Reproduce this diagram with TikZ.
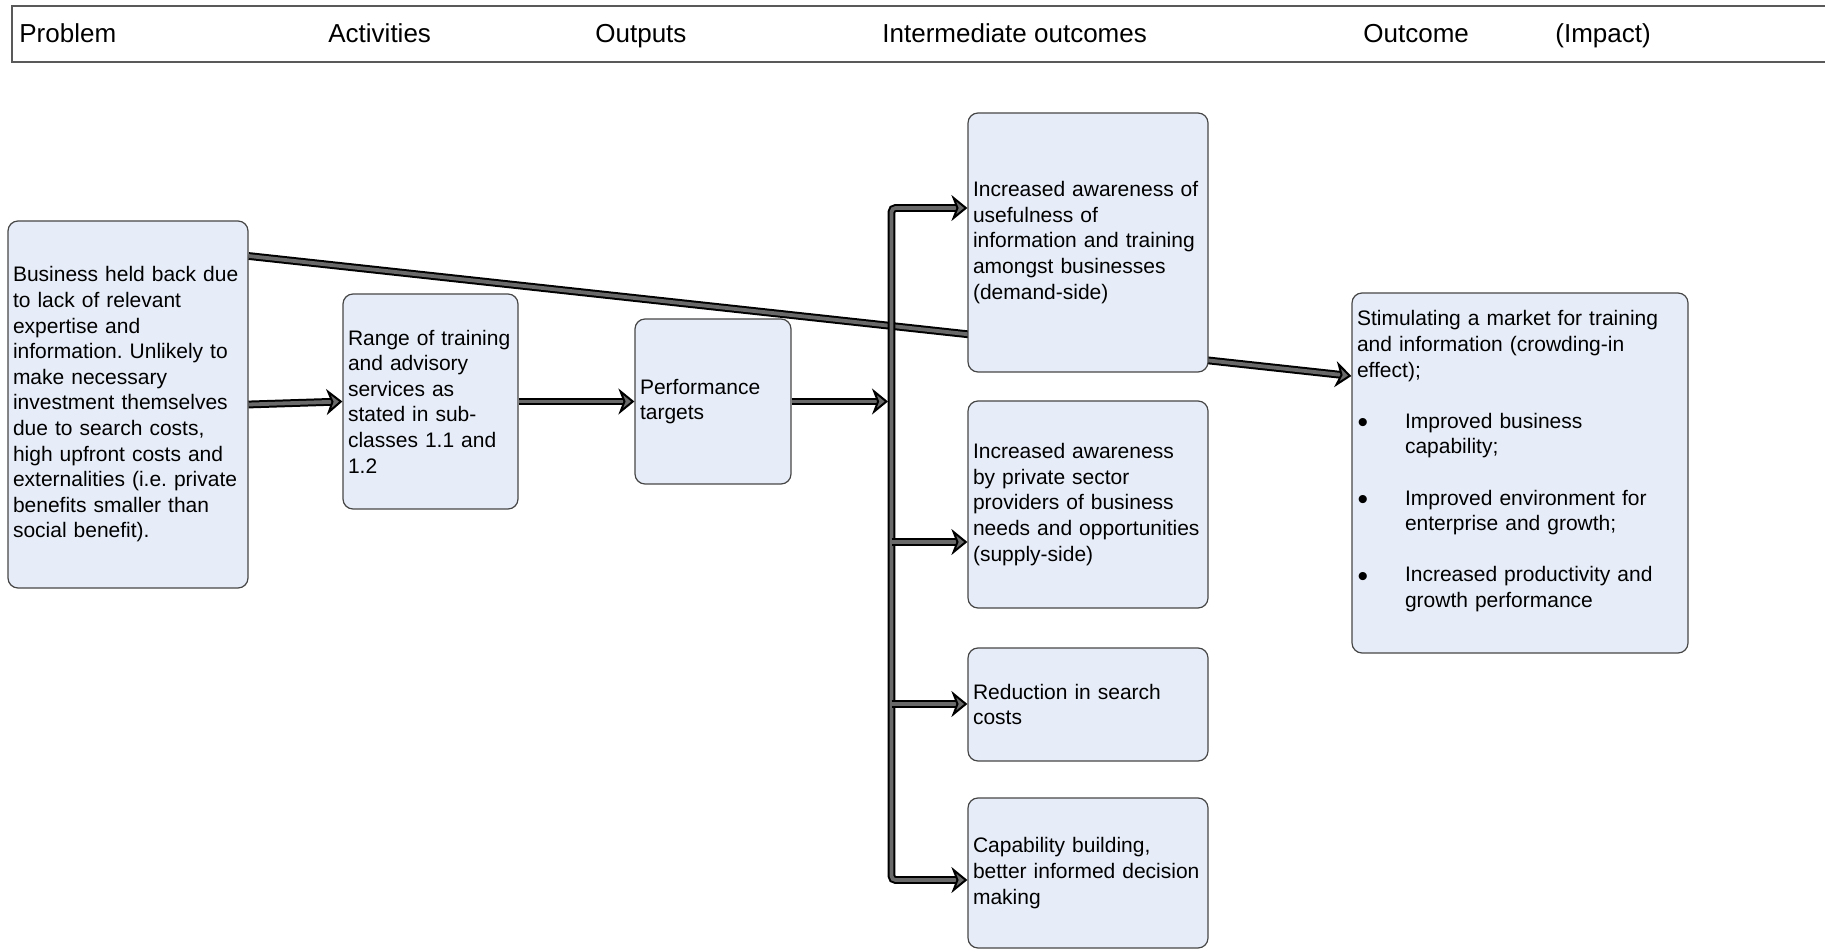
\documentclass[tikz,border=0pt]{standalone}
\usepackage{fontspec}
\setmainfont{Liberation Sans}
\usetikzlibrary{arrows.meta,backgrounds}
\frenchspacing

\definecolor{boxfill}{RGB}{231,237,248}
\definecolor{boxline}{RGB}{70,70,70}
\definecolor{flowgray}{RGB}{105,105,105}
\newcommand{\outbullet}{\makebox[24pt][l]{\hspace{0.3pt}\raisebox{-2.3pt}{\fontsize{15}{12.8}\selectfont\textbullet}}}
\newcommand{\outindent}{\hspace*{24pt}}

\tikzset{
  stagebox/.style={draw=boxline, fill=boxfill, rounded corners=5pt, line width=0.6pt,
    align=left, inner xsep=2.5pt, inner ysep=0pt, font=\fontsize{10.5}{12.8}\selectfont},
  tip/.tip={Stealth[length=8pt,width=13pt,inset=2.5pt,fill=flowgray]},
  flow/.style={draw=black, line width=1pt, double=flowgray, double distance=1.9pt, -tip},
  head/.style={anchor=base west, inner sep=0pt, font=\fontsize{13}{15}\selectfont},
}

\begin{document}
\begin{tikzpicture}[x=0.5pt, y=-0.5pt]
	\useasboundingbox (0,0) rectangle (1825,951);
	
	%header bar
	\draw[draw=gray!70!black, line width=0.8pt] (1830,6) -- (12,6) -- (12,62) -- (1830,62);
	\node[head] (hproblem) at (19,42.5) {Problem};
	\node[head] (hactiv) at (328,42.5) {Activities};
	\node[head] (houtput) at (595,42.5) {Outputs};
	\node[head] (hinter) at (882,42.5) {Intermediate outcomes};
	\node[head] (houtcome) at (1363,42.5) {Outcome};
	\node[head] (himpact) at (1555,42.5) {(Impact)};
	
	%boxes
	\node[stagebox, minimum width=120pt, minimum height=183.5pt, text width=115pt] (problem) at (128,404.5)
		{Business held back due\\to lack of relevant\\expertise and\\information. Unlikely to\\make necessary\\investment themselves\\due to search costs,\\high upfront costs and\\externalities (i.e. private\\benefits smaller than\\social benefit).};
	\node[stagebox, minimum width=87.5pt, minimum height=107.5pt, text width=82.5pt] (activity) at (430.5,401.5)
		{Range of training\\and advisory\\services as\\stated in sub-\\classes 1.1 and\\1.2};
	\node[stagebox, minimum width=78pt, minimum height=82.5pt, text width=73pt] (outputs) at (713,401.5)
		{Performance\\targets};
	
	\node[stagebox, minimum width=120pt, minimum height=129.5pt, text width=115pt] (aware1) at (1088,242.5)
		{Increased awareness of\\usefulness of\\information and training\\amongst businesses\\(demand-side)};
	\node[stagebox, minimum width=120pt, minimum height=103.5pt, text width=115pt] (aware2) at (1088,504.5)
		{Increased awareness\\by private sector\\providers of business\\needs and opportunities\\(supply-side)};
	\node[stagebox, minimum width=120pt, minimum height=56.5pt, text width=115pt] (search) at (1088,704.5)
		{Reduction in search\\costs};
	\node[stagebox, minimum width=120pt, minimum height=75pt, text width=115pt] (capab) at (1088,873)
		{Capability building,\\better informed decision\\making};
	
	\node[stagebox, minimum width=168pt, minimum height=180pt, text width=163pt] (outcome) at (1520,473)
		{Stimulating a market for training\\and information (crowding-in\\effect);\\[12.8pt]
		\outbullet Improved business\\\outindent capability;\\[12.8pt]
		\outbullet Improved environment for\\\outindent enterprise and growth;\\[12.8pt]
		\outbullet Increased productivity and\\\outindent growth performance\\[1.2pt]\mbox{}};
	
	%trunk
	\coordinate (trtop) at (891.5,208);
	\coordinate (trbot) at (891.5,880);
	\coordinate (trin) at (888,401.5);
	\coordinate (br2) at (891.5,542);
	\coordinate (br3) at (891.5,704);
	
	%arrows
	\begin{scope}[on background layer]
		\draw[flow] (problem.east |- 0,256) -- (outcome.west |- 0,376);
	\end{scope}
	\draw[flow] (problem.east) -- (activity.west);
	\draw[flow] (activity.east) -- (outputs.west);
	\draw[flow] (outputs.east) -- (trin);
	\draw[flow, tip-tip, rounded corners=2pt]
		(aware1.west |- trtop) -- (trtop) -- (trbot) -- (capab.west |- trbot);
	\draw[flow] (br2) -- (aware2.west |- br2);
	\draw[flow] (br3) -- (search.west |- br3);
\end{tikzpicture}
\end{document}
